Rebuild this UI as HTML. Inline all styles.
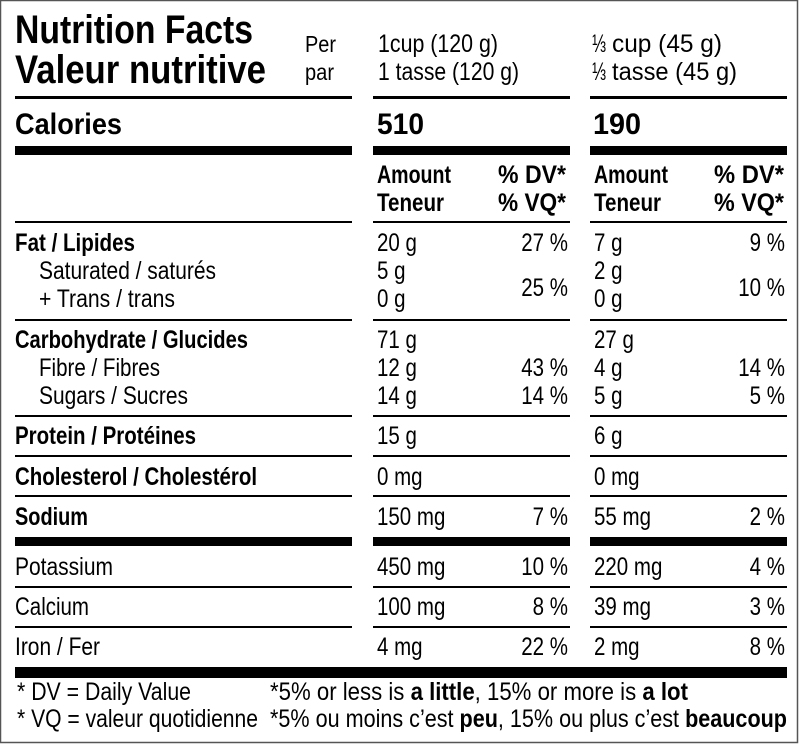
<!DOCTYPE html>
<html><head><meta charset="utf-8"><style>
html,body{margin:0;padding:0;background:#fff}
svg{display:block}
text{font-family:"Liberation Sans",sans-serif;fill:#000}
.b{font-weight:bold}
</style></head><body>
<svg width="800" height="744" viewBox="0 0 800 744" xmlns="http://www.w3.org/2000/svg">
<rect x="0.5" y="0.5" width="797" height="742" fill="#fff" stroke="#555" stroke-width="1.5"/>
<text class="b" x="15" y="43" font-size="40" textLength="238" lengthAdjust="spacingAndGlyphs">Nutrition Facts</text>
<text class="b" x="15" y="83" font-size="40" textLength="251" lengthAdjust="spacingAndGlyphs">Valeur nutritive</text>
<text x="305" y="52" font-size="23" textLength="31" lengthAdjust="spacingAndGlyphs">Per</text>
<text x="305" y="80" font-size="23" textLength="29" lengthAdjust="spacingAndGlyphs">par</text>
<text x="378" y="52" font-size="25" textLength="120" lengthAdjust="spacingAndGlyphs">1cup (120 g)</text>
<text x="378" y="80" font-size="25" textLength="141" lengthAdjust="spacingAndGlyphs">1 tasse (120 g)</text>
<text x="592" y="52" font-size="25" textLength="14" lengthAdjust="spacingAndGlyphs">⅓</text>
<text x="612" y="52" font-size="25" textLength="110" lengthAdjust="spacingAndGlyphs">cup (45 g)</text>
<text x="592" y="80" font-size="25" textLength="14" lengthAdjust="spacingAndGlyphs">⅓</text>
<text x="612" y="80" font-size="25" textLength="125" lengthAdjust="spacingAndGlyphs">tasse (45 g)</text>
<g fill="#000">
<rect x="15" y="96" width="337" height="3"/><rect x="373" y="96" width="197" height="3"/><rect x="590" y="96" width="197" height="3"/>
<rect x="15" y="146" width="337" height="9"/><rect x="373" y="146" width="197" height="9"/><rect x="590" y="146" width="197" height="9"/>
<rect x="15" y="221" width="337" height="2"/><rect x="373" y="221" width="197" height="2"/><rect x="590" y="221" width="197" height="2"/>
<rect x="15" y="319" width="337" height="2"/><rect x="373" y="319" width="197" height="2"/><rect x="590" y="319" width="197" height="2"/>
<rect x="15" y="415" width="337" height="2"/><rect x="373" y="415" width="197" height="2"/><rect x="590" y="415" width="197" height="2"/>
<rect x="15" y="455" width="337" height="2"/><rect x="373" y="455" width="197" height="2"/><rect x="590" y="455" width="197" height="2"/>
<rect x="15" y="495" width="337" height="2"/><rect x="373" y="495" width="197" height="2"/><rect x="590" y="495" width="197" height="2"/>
<rect x="15" y="537" width="337" height="9"/><rect x="373" y="537" width="197" height="9"/><rect x="590" y="537" width="197" height="9"/>
<rect x="15" y="586" width="337" height="2"/><rect x="373" y="586" width="197" height="2"/><rect x="590" y="586" width="197" height="2"/>
<rect x="15" y="626" width="337" height="2"/><rect x="373" y="626" width="197" height="2"/><rect x="590" y="626" width="197" height="2"/>
<rect x="15" y="667" width="772" height="11"/>
</g>
<text class="b" x="15" y="134" font-size="30" textLength="107" lengthAdjust="spacingAndGlyphs">Calories</text>
<text class="b" x="377" y="134" font-size="30" textLength="47" lengthAdjust="spacingAndGlyphs">510</text>
<text class="b" x="593" y="134" font-size="30" textLength="48" lengthAdjust="spacingAndGlyphs">190</text>
<text class="b" x="377" y="183" font-size="25" textLength="74" lengthAdjust="spacingAndGlyphs">Amount</text>
<text class="b" x="377" y="211" font-size="25" textLength="67" lengthAdjust="spacingAndGlyphs">Teneur</text>
<text class="b" x="498" y="183" font-size="25" textLength="68" lengthAdjust="spacingAndGlyphs">% DV*</text>
<text class="b" x="498" y="211" font-size="25" textLength="68" lengthAdjust="spacingAndGlyphs">% VQ*</text>
<text class="b" x="594" y="183" font-size="25" textLength="74" lengthAdjust="spacingAndGlyphs">Amount</text>
<text class="b" x="594" y="211" font-size="25" textLength="67" lengthAdjust="spacingAndGlyphs">Teneur</text>
<text class="b" x="714" y="183" font-size="25" textLength="70" lengthAdjust="spacingAndGlyphs">% DV*</text>
<text class="b" x="714" y="211" font-size="25" textLength="70" lengthAdjust="spacingAndGlyphs">% VQ*</text>
<text class="b" x="15" y="251" font-size="25" textLength="120" lengthAdjust="spacingAndGlyphs">Fat / Lipides</text>
<text x="39" y="279" font-size="25" textLength="177" lengthAdjust="spacingAndGlyphs">Saturated / saturés</text>
<text x="39" y="307" font-size="25" textLength="136" lengthAdjust="spacingAndGlyphs">+ Trans / trans</text>
<text class="b" x="15" y="348" font-size="25" textLength="233" lengthAdjust="spacingAndGlyphs">Carbohydrate / Glucides</text>
<text x="39" y="376" font-size="25" textLength="121" lengthAdjust="spacingAndGlyphs">Fibre / Fibres</text>
<text x="39" y="404" font-size="25" textLength="149" lengthAdjust="spacingAndGlyphs">Sugars / Sucres</text>
<text class="b" x="15" y="444" font-size="25" textLength="181" lengthAdjust="spacingAndGlyphs">Protein / Protéines</text>
<text class="b" x="15" y="485" font-size="25" textLength="242" lengthAdjust="spacingAndGlyphs">Cholesterol / Cholestérol</text>
<text class="b" x="15" y="525" font-size="25" textLength="73" lengthAdjust="spacingAndGlyphs">Sodium</text>
<text x="15" y="575" font-size="25" textLength="98" lengthAdjust="spacingAndGlyphs">Potassium</text>
<text x="15" y="615" font-size="25" textLength="74" lengthAdjust="spacingAndGlyphs">Calcium</text>
<text x="15" y="655" font-size="25" textLength="85" lengthAdjust="spacingAndGlyphs">Iron / Fer</text>
<g font-size="25">
<text transform="translate(377,251) scale(.82,1)">20 g</text>
<text transform="translate(377,279) scale(.82,1)">5 g</text>
<text transform="translate(377,307) scale(.82,1)">0 g</text>
<text transform="translate(377,348) scale(.82,1)">71 g</text>
<text transform="translate(377,376) scale(.82,1)">12 g</text>
<text transform="translate(377,404) scale(.82,1)">14 g</text>
<text transform="translate(377,444) scale(.82,1)">15 g</text>
<text transform="translate(377,485) scale(.82,1)">0 mg</text>
<text transform="translate(377,525) scale(.82,1)">150 mg</text>
<text transform="translate(377,575) scale(.82,1)">450 mg</text>
<text transform="translate(377,615) scale(.82,1)">100 mg</text>
<text transform="translate(377,655) scale(.82,1)">4 mg</text>
<g text-anchor="end">
<text transform="translate(568,251) scale(.82,1)">27 %</text>
<text transform="translate(568,296) scale(.82,1)">25 %</text>
<text transform="translate(568,376) scale(.82,1)">43 %</text>
<text transform="translate(568,404) scale(.82,1)">14 %</text>
<text transform="translate(568,525) scale(.82,1)">7 %</text>
<text transform="translate(568,575) scale(.82,1)">10 %</text>
<text transform="translate(568,615) scale(.82,1)">8 %</text>
<text transform="translate(568,655) scale(.82,1)">22 %</text>
</g>
<text transform="translate(594,251) scale(.82,1)">7 g</text>
<text transform="translate(594,279) scale(.82,1)">2 g</text>
<text transform="translate(594,307) scale(.82,1)">0 g</text>
<text transform="translate(594,348) scale(.82,1)">27 g</text>
<text transform="translate(594,376) scale(.82,1)">4 g</text>
<text transform="translate(594,404) scale(.82,1)">5 g</text>
<text transform="translate(594,444) scale(.82,1)">6 g</text>
<text transform="translate(594,485) scale(.82,1)">0 mg</text>
<text transform="translate(594,525) scale(.82,1)">55 mg</text>
<text transform="translate(594,575) scale(.82,1)">220 mg</text>
<text transform="translate(594,615) scale(.82,1)">39 mg</text>
<text transform="translate(594,655) scale(.82,1)">2 mg</text>
<g text-anchor="end">
<text transform="translate(785,251) scale(.82,1)">9 %</text>
<text transform="translate(785,296) scale(.82,1)">10 %</text>
<text transform="translate(785,376) scale(.82,1)">14 %</text>
<text transform="translate(785,404) scale(.82,1)">5 %</text>
<text transform="translate(785,525) scale(.82,1)">2 %</text>
<text transform="translate(785,575) scale(.82,1)">4 %</text>
<text transform="translate(785,615) scale(.82,1)">3 %</text>
<text transform="translate(785,655) scale(.82,1)">8 %</text>
</g>
</g>
<text x="17" y="700" font-size="25" textLength="174" lengthAdjust="spacingAndGlyphs">* DV = Daily Value</text>
<text x="17" y="727" font-size="25" textLength="241" lengthAdjust="spacingAndGlyphs">* VQ = valeur quotidienne</text>
<text x="270" y="700" font-size="25" textLength="418" lengthAdjust="spacingAndGlyphs">*5% or less is <tspan class="b">a little</tspan>, 15% or more is <tspan class="b">a lot</tspan></text>
<text x="270" y="727" font-size="25" textLength="517" lengthAdjust="spacingAndGlyphs">*5% ou moins c’est <tspan class="b">peu</tspan>, 15% ou plus c’est <tspan class="b">beaucoup</tspan></text>
</svg>
</body></html>
